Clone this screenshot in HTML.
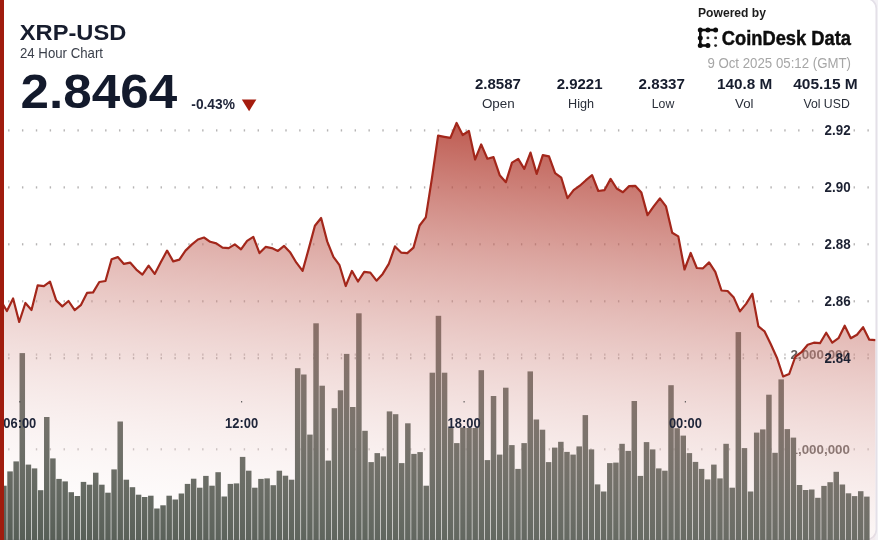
<!DOCTYPE html>
<html><head><meta charset="utf-8"><title>XRP-USD 24 Hour Chart</title>
<style>
html,body{margin:0;padding:0;background:#fff;}
body{width:878px;height:540px;overflow:hidden;position:relative;font-family:"Liberation Sans",sans-serif;}
svg{position:absolute;left:0;top:0;display:block;font-family:"Liberation Sans",sans-serif;}
</style></head><body>
<svg width="878" height="540" viewBox="0 0 878 540">
<defs>
<linearGradient id="ag" gradientUnits="userSpaceOnUse" x1="456" y1="71.8" x2="401.3" y2="601.8">
<stop offset="0" stop-color="rgb(165,28,14)" stop-opacity="0.884"/>
<stop offset="1" stop-color="rgb(255,255,255)" stop-opacity="0"/>
</linearGradient>
<filter id="nf" x="0" y="0" width="878" height="540" filterUnits="userSpaceOnUse" color-interpolation-filters="sRGB"><feOffset dx="0" dy="0"/></filter>
<clipPath id="cp"><rect x="0" y="0" width="875.6" height="540"/></clipPath>
</defs>
<rect x="0" y="0" width="878" height="540" fill="#ffffff"/>
<g filter="url(#nf)">
<!-- outer frame -->
<rect x="0" y="0" width="878" height="540" fill="#f3f1f5"/><rect x="-20" y="-1.5" width="896.3" height="541.2" rx="10" ry="10" fill="#ffffff" stroke="#e4e0e8" stroke-width="1.7"/>
<!-- price gridlines -->
<g fill="#b6b4b4"><rect x="8.10" y="129.30" width="1.4" height="2.2"/><rect x="21.96" y="129.30" width="1.4" height="2.2"/><rect x="35.82" y="129.30" width="1.4" height="2.2"/><rect x="49.68" y="129.30" width="1.4" height="2.2"/><rect x="63.54" y="129.30" width="1.4" height="2.2"/><rect x="77.40" y="129.30" width="1.4" height="2.2"/><rect x="91.26" y="129.30" width="1.4" height="2.2"/><rect x="105.12" y="129.30" width="1.4" height="2.2"/><rect x="118.98" y="129.30" width="1.4" height="2.2"/><rect x="132.84" y="129.30" width="1.4" height="2.2"/><rect x="146.70" y="129.30" width="1.4" height="2.2"/><rect x="160.56" y="129.30" width="1.4" height="2.2"/><rect x="174.42" y="129.30" width="1.4" height="2.2"/><rect x="188.28" y="129.30" width="1.4" height="2.2"/><rect x="202.14" y="129.30" width="1.4" height="2.2"/><rect x="216.00" y="129.30" width="1.4" height="2.2"/><rect x="229.86" y="129.30" width="1.4" height="2.2"/><rect x="243.72" y="129.30" width="1.4" height="2.2"/><rect x="257.58" y="129.30" width="1.4" height="2.2"/><rect x="271.44" y="129.30" width="1.4" height="2.2"/><rect x="285.30" y="129.30" width="1.4" height="2.2"/><rect x="299.16" y="129.30" width="1.4" height="2.2"/><rect x="313.02" y="129.30" width="1.4" height="2.2"/><rect x="326.88" y="129.30" width="1.4" height="2.2"/><rect x="340.74" y="129.30" width="1.4" height="2.2"/><rect x="354.60" y="129.30" width="1.4" height="2.2"/><rect x="368.46" y="129.30" width="1.4" height="2.2"/><rect x="382.32" y="129.30" width="1.4" height="2.2"/><rect x="396.18" y="129.30" width="1.4" height="2.2"/><rect x="410.04" y="129.30" width="1.4" height="2.2"/><rect x="423.90" y="129.30" width="1.4" height="2.2"/><rect x="437.76" y="129.30" width="1.4" height="2.2"/><rect x="451.62" y="129.30" width="1.4" height="2.2"/><rect x="465.48" y="129.30" width="1.4" height="2.2"/><rect x="479.34" y="129.30" width="1.4" height="2.2"/><rect x="493.20" y="129.30" width="1.4" height="2.2"/><rect x="507.06" y="129.30" width="1.4" height="2.2"/><rect x="520.92" y="129.30" width="1.4" height="2.2"/><rect x="534.78" y="129.30" width="1.4" height="2.2"/><rect x="548.64" y="129.30" width="1.4" height="2.2"/><rect x="562.50" y="129.30" width="1.4" height="2.2"/><rect x="576.36" y="129.30" width="1.4" height="2.2"/><rect x="590.22" y="129.30" width="1.4" height="2.2"/><rect x="604.08" y="129.30" width="1.4" height="2.2"/><rect x="617.94" y="129.30" width="1.4" height="2.2"/><rect x="631.80" y="129.30" width="1.4" height="2.2"/><rect x="645.66" y="129.30" width="1.4" height="2.2"/><rect x="659.52" y="129.30" width="1.4" height="2.2"/><rect x="673.38" y="129.30" width="1.4" height="2.2"/><rect x="687.24" y="129.30" width="1.4" height="2.2"/><rect x="701.10" y="129.30" width="1.4" height="2.2"/><rect x="714.96" y="129.30" width="1.4" height="2.2"/><rect x="728.82" y="129.30" width="1.4" height="2.2"/><rect x="742.68" y="129.30" width="1.4" height="2.2"/><rect x="756.54" y="129.30" width="1.4" height="2.2"/><rect x="770.40" y="129.30" width="1.4" height="2.2"/><rect x="784.26" y="129.30" width="1.4" height="2.2"/><rect x="798.12" y="129.30" width="1.4" height="2.2"/><rect x="811.98" y="129.30" width="1.4" height="2.2"/><rect x="853.56" y="129.30" width="1.4" height="2.2"/><rect x="867.42" y="129.30" width="1.4" height="2.2"/></g>
<g fill="#b6b4b4"><rect x="8.10" y="186.30" width="1.4" height="2.2"/><rect x="21.96" y="186.30" width="1.4" height="2.2"/><rect x="35.82" y="186.30" width="1.4" height="2.2"/><rect x="49.68" y="186.30" width="1.4" height="2.2"/><rect x="63.54" y="186.30" width="1.4" height="2.2"/><rect x="77.40" y="186.30" width="1.4" height="2.2"/><rect x="91.26" y="186.30" width="1.4" height="2.2"/><rect x="105.12" y="186.30" width="1.4" height="2.2"/><rect x="118.98" y="186.30" width="1.4" height="2.2"/><rect x="132.84" y="186.30" width="1.4" height="2.2"/><rect x="146.70" y="186.30" width="1.4" height="2.2"/><rect x="160.56" y="186.30" width="1.4" height="2.2"/><rect x="174.42" y="186.30" width="1.4" height="2.2"/><rect x="188.28" y="186.30" width="1.4" height="2.2"/><rect x="202.14" y="186.30" width="1.4" height="2.2"/><rect x="216.00" y="186.30" width="1.4" height="2.2"/><rect x="229.86" y="186.30" width="1.4" height="2.2"/><rect x="243.72" y="186.30" width="1.4" height="2.2"/><rect x="257.58" y="186.30" width="1.4" height="2.2"/><rect x="271.44" y="186.30" width="1.4" height="2.2"/><rect x="285.30" y="186.30" width="1.4" height="2.2"/><rect x="299.16" y="186.30" width="1.4" height="2.2"/><rect x="313.02" y="186.30" width="1.4" height="2.2"/><rect x="326.88" y="186.30" width="1.4" height="2.2"/><rect x="340.74" y="186.30" width="1.4" height="2.2"/><rect x="354.60" y="186.30" width="1.4" height="2.2"/><rect x="368.46" y="186.30" width="1.4" height="2.2"/><rect x="382.32" y="186.30" width="1.4" height="2.2"/><rect x="396.18" y="186.30" width="1.4" height="2.2"/><rect x="410.04" y="186.30" width="1.4" height="2.2"/><rect x="423.90" y="186.30" width="1.4" height="2.2"/><rect x="437.76" y="186.30" width="1.4" height="2.2"/><rect x="451.62" y="186.30" width="1.4" height="2.2"/><rect x="465.48" y="186.30" width="1.4" height="2.2"/><rect x="479.34" y="186.30" width="1.4" height="2.2"/><rect x="493.20" y="186.30" width="1.4" height="2.2"/><rect x="507.06" y="186.30" width="1.4" height="2.2"/><rect x="520.92" y="186.30" width="1.4" height="2.2"/><rect x="534.78" y="186.30" width="1.4" height="2.2"/><rect x="548.64" y="186.30" width="1.4" height="2.2"/><rect x="562.50" y="186.30" width="1.4" height="2.2"/><rect x="576.36" y="186.30" width="1.4" height="2.2"/><rect x="590.22" y="186.30" width="1.4" height="2.2"/><rect x="604.08" y="186.30" width="1.4" height="2.2"/><rect x="617.94" y="186.30" width="1.4" height="2.2"/><rect x="631.80" y="186.30" width="1.4" height="2.2"/><rect x="645.66" y="186.30" width="1.4" height="2.2"/><rect x="659.52" y="186.30" width="1.4" height="2.2"/><rect x="673.38" y="186.30" width="1.4" height="2.2"/><rect x="687.24" y="186.30" width="1.4" height="2.2"/><rect x="701.10" y="186.30" width="1.4" height="2.2"/><rect x="714.96" y="186.30" width="1.4" height="2.2"/><rect x="728.82" y="186.30" width="1.4" height="2.2"/><rect x="742.68" y="186.30" width="1.4" height="2.2"/><rect x="756.54" y="186.30" width="1.4" height="2.2"/><rect x="770.40" y="186.30" width="1.4" height="2.2"/><rect x="784.26" y="186.30" width="1.4" height="2.2"/><rect x="798.12" y="186.30" width="1.4" height="2.2"/><rect x="811.98" y="186.30" width="1.4" height="2.2"/><rect x="853.56" y="186.30" width="1.4" height="2.2"/><rect x="867.42" y="186.30" width="1.4" height="2.2"/></g>
<g fill="#b6b4b4"><rect x="8.10" y="243.20" width="1.4" height="2.2"/><rect x="21.96" y="243.20" width="1.4" height="2.2"/><rect x="35.82" y="243.20" width="1.4" height="2.2"/><rect x="49.68" y="243.20" width="1.4" height="2.2"/><rect x="63.54" y="243.20" width="1.4" height="2.2"/><rect x="77.40" y="243.20" width="1.4" height="2.2"/><rect x="91.26" y="243.20" width="1.4" height="2.2"/><rect x="105.12" y="243.20" width="1.4" height="2.2"/><rect x="118.98" y="243.20" width="1.4" height="2.2"/><rect x="132.84" y="243.20" width="1.4" height="2.2"/><rect x="146.70" y="243.20" width="1.4" height="2.2"/><rect x="160.56" y="243.20" width="1.4" height="2.2"/><rect x="174.42" y="243.20" width="1.4" height="2.2"/><rect x="188.28" y="243.20" width="1.4" height="2.2"/><rect x="202.14" y="243.20" width="1.4" height="2.2"/><rect x="216.00" y="243.20" width="1.4" height="2.2"/><rect x="229.86" y="243.20" width="1.4" height="2.2"/><rect x="243.72" y="243.20" width="1.4" height="2.2"/><rect x="257.58" y="243.20" width="1.4" height="2.2"/><rect x="271.44" y="243.20" width="1.4" height="2.2"/><rect x="285.30" y="243.20" width="1.4" height="2.2"/><rect x="299.16" y="243.20" width="1.4" height="2.2"/><rect x="313.02" y="243.20" width="1.4" height="2.2"/><rect x="326.88" y="243.20" width="1.4" height="2.2"/><rect x="340.74" y="243.20" width="1.4" height="2.2"/><rect x="354.60" y="243.20" width="1.4" height="2.2"/><rect x="368.46" y="243.20" width="1.4" height="2.2"/><rect x="382.32" y="243.20" width="1.4" height="2.2"/><rect x="396.18" y="243.20" width="1.4" height="2.2"/><rect x="410.04" y="243.20" width="1.4" height="2.2"/><rect x="423.90" y="243.20" width="1.4" height="2.2"/><rect x="437.76" y="243.20" width="1.4" height="2.2"/><rect x="451.62" y="243.20" width="1.4" height="2.2"/><rect x="465.48" y="243.20" width="1.4" height="2.2"/><rect x="479.34" y="243.20" width="1.4" height="2.2"/><rect x="493.20" y="243.20" width="1.4" height="2.2"/><rect x="507.06" y="243.20" width="1.4" height="2.2"/><rect x="520.92" y="243.20" width="1.4" height="2.2"/><rect x="534.78" y="243.20" width="1.4" height="2.2"/><rect x="548.64" y="243.20" width="1.4" height="2.2"/><rect x="562.50" y="243.20" width="1.4" height="2.2"/><rect x="576.36" y="243.20" width="1.4" height="2.2"/><rect x="590.22" y="243.20" width="1.4" height="2.2"/><rect x="604.08" y="243.20" width="1.4" height="2.2"/><rect x="617.94" y="243.20" width="1.4" height="2.2"/><rect x="631.80" y="243.20" width="1.4" height="2.2"/><rect x="645.66" y="243.20" width="1.4" height="2.2"/><rect x="659.52" y="243.20" width="1.4" height="2.2"/><rect x="673.38" y="243.20" width="1.4" height="2.2"/><rect x="687.24" y="243.20" width="1.4" height="2.2"/><rect x="701.10" y="243.20" width="1.4" height="2.2"/><rect x="714.96" y="243.20" width="1.4" height="2.2"/><rect x="728.82" y="243.20" width="1.4" height="2.2"/><rect x="742.68" y="243.20" width="1.4" height="2.2"/><rect x="756.54" y="243.20" width="1.4" height="2.2"/><rect x="770.40" y="243.20" width="1.4" height="2.2"/><rect x="784.26" y="243.20" width="1.4" height="2.2"/><rect x="798.12" y="243.20" width="1.4" height="2.2"/><rect x="811.98" y="243.20" width="1.4" height="2.2"/><rect x="853.56" y="243.20" width="1.4" height="2.2"/><rect x="867.42" y="243.20" width="1.4" height="2.2"/></g>
<g fill="#b6b4b4"><rect x="8.10" y="300.20" width="1.4" height="2.2"/><rect x="21.96" y="300.20" width="1.4" height="2.2"/><rect x="35.82" y="300.20" width="1.4" height="2.2"/><rect x="49.68" y="300.20" width="1.4" height="2.2"/><rect x="63.54" y="300.20" width="1.4" height="2.2"/><rect x="77.40" y="300.20" width="1.4" height="2.2"/><rect x="91.26" y="300.20" width="1.4" height="2.2"/><rect x="105.12" y="300.20" width="1.4" height="2.2"/><rect x="118.98" y="300.20" width="1.4" height="2.2"/><rect x="132.84" y="300.20" width="1.4" height="2.2"/><rect x="146.70" y="300.20" width="1.4" height="2.2"/><rect x="160.56" y="300.20" width="1.4" height="2.2"/><rect x="174.42" y="300.20" width="1.4" height="2.2"/><rect x="188.28" y="300.20" width="1.4" height="2.2"/><rect x="202.14" y="300.20" width="1.4" height="2.2"/><rect x="216.00" y="300.20" width="1.4" height="2.2"/><rect x="229.86" y="300.20" width="1.4" height="2.2"/><rect x="243.72" y="300.20" width="1.4" height="2.2"/><rect x="257.58" y="300.20" width="1.4" height="2.2"/><rect x="271.44" y="300.20" width="1.4" height="2.2"/><rect x="285.30" y="300.20" width="1.4" height="2.2"/><rect x="299.16" y="300.20" width="1.4" height="2.2"/><rect x="313.02" y="300.20" width="1.4" height="2.2"/><rect x="326.88" y="300.20" width="1.4" height="2.2"/><rect x="340.74" y="300.20" width="1.4" height="2.2"/><rect x="354.60" y="300.20" width="1.4" height="2.2"/><rect x="368.46" y="300.20" width="1.4" height="2.2"/><rect x="382.32" y="300.20" width="1.4" height="2.2"/><rect x="396.18" y="300.20" width="1.4" height="2.2"/><rect x="410.04" y="300.20" width="1.4" height="2.2"/><rect x="423.90" y="300.20" width="1.4" height="2.2"/><rect x="437.76" y="300.20" width="1.4" height="2.2"/><rect x="451.62" y="300.20" width="1.4" height="2.2"/><rect x="465.48" y="300.20" width="1.4" height="2.2"/><rect x="479.34" y="300.20" width="1.4" height="2.2"/><rect x="493.20" y="300.20" width="1.4" height="2.2"/><rect x="507.06" y="300.20" width="1.4" height="2.2"/><rect x="520.92" y="300.20" width="1.4" height="2.2"/><rect x="534.78" y="300.20" width="1.4" height="2.2"/><rect x="548.64" y="300.20" width="1.4" height="2.2"/><rect x="562.50" y="300.20" width="1.4" height="2.2"/><rect x="576.36" y="300.20" width="1.4" height="2.2"/><rect x="590.22" y="300.20" width="1.4" height="2.2"/><rect x="604.08" y="300.20" width="1.4" height="2.2"/><rect x="617.94" y="300.20" width="1.4" height="2.2"/><rect x="631.80" y="300.20" width="1.4" height="2.2"/><rect x="645.66" y="300.20" width="1.4" height="2.2"/><rect x="659.52" y="300.20" width="1.4" height="2.2"/><rect x="673.38" y="300.20" width="1.4" height="2.2"/><rect x="687.24" y="300.20" width="1.4" height="2.2"/><rect x="701.10" y="300.20" width="1.4" height="2.2"/><rect x="714.96" y="300.20" width="1.4" height="2.2"/><rect x="728.82" y="300.20" width="1.4" height="2.2"/><rect x="742.68" y="300.20" width="1.4" height="2.2"/><rect x="756.54" y="300.20" width="1.4" height="2.2"/><rect x="770.40" y="300.20" width="1.4" height="2.2"/><rect x="784.26" y="300.20" width="1.4" height="2.2"/><rect x="798.12" y="300.20" width="1.4" height="2.2"/><rect x="811.98" y="300.20" width="1.4" height="2.2"/><rect x="853.56" y="300.20" width="1.4" height="2.2"/><rect x="867.42" y="300.20" width="1.4" height="2.2"/></g>
<g fill="#b6b4b4"><rect x="8.10" y="357.10" width="1.4" height="2.2"/><rect x="21.96" y="357.10" width="1.4" height="2.2"/><rect x="35.82" y="357.10" width="1.4" height="2.2"/><rect x="49.68" y="357.10" width="1.4" height="2.2"/><rect x="63.54" y="357.10" width="1.4" height="2.2"/><rect x="77.40" y="357.10" width="1.4" height="2.2"/><rect x="91.26" y="357.10" width="1.4" height="2.2"/><rect x="105.12" y="357.10" width="1.4" height="2.2"/><rect x="118.98" y="357.10" width="1.4" height="2.2"/><rect x="132.84" y="357.10" width="1.4" height="2.2"/><rect x="146.70" y="357.10" width="1.4" height="2.2"/><rect x="160.56" y="357.10" width="1.4" height="2.2"/><rect x="174.42" y="357.10" width="1.4" height="2.2"/><rect x="188.28" y="357.10" width="1.4" height="2.2"/><rect x="202.14" y="357.10" width="1.4" height="2.2"/><rect x="216.00" y="357.10" width="1.4" height="2.2"/><rect x="229.86" y="357.10" width="1.4" height="2.2"/><rect x="243.72" y="357.10" width="1.4" height="2.2"/><rect x="257.58" y="357.10" width="1.4" height="2.2"/><rect x="271.44" y="357.10" width="1.4" height="2.2"/><rect x="285.30" y="357.10" width="1.4" height="2.2"/><rect x="299.16" y="357.10" width="1.4" height="2.2"/><rect x="313.02" y="357.10" width="1.4" height="2.2"/><rect x="326.88" y="357.10" width="1.4" height="2.2"/><rect x="340.74" y="357.10" width="1.4" height="2.2"/><rect x="354.60" y="357.10" width="1.4" height="2.2"/><rect x="368.46" y="357.10" width="1.4" height="2.2"/><rect x="382.32" y="357.10" width="1.4" height="2.2"/><rect x="396.18" y="357.10" width="1.4" height="2.2"/><rect x="410.04" y="357.10" width="1.4" height="2.2"/><rect x="423.90" y="357.10" width="1.4" height="2.2"/><rect x="437.76" y="357.10" width="1.4" height="2.2"/><rect x="451.62" y="357.10" width="1.4" height="2.2"/><rect x="465.48" y="357.10" width="1.4" height="2.2"/><rect x="479.34" y="357.10" width="1.4" height="2.2"/><rect x="493.20" y="357.10" width="1.4" height="2.2"/><rect x="507.06" y="357.10" width="1.4" height="2.2"/><rect x="520.92" y="357.10" width="1.4" height="2.2"/><rect x="534.78" y="357.10" width="1.4" height="2.2"/><rect x="548.64" y="357.10" width="1.4" height="2.2"/><rect x="562.50" y="357.10" width="1.4" height="2.2"/><rect x="576.36" y="357.10" width="1.4" height="2.2"/><rect x="590.22" y="357.10" width="1.4" height="2.2"/><rect x="604.08" y="357.10" width="1.4" height="2.2"/><rect x="617.94" y="357.10" width="1.4" height="2.2"/><rect x="631.80" y="357.10" width="1.4" height="2.2"/><rect x="645.66" y="357.10" width="1.4" height="2.2"/><rect x="659.52" y="357.10" width="1.4" height="2.2"/><rect x="673.38" y="357.10" width="1.4" height="2.2"/><rect x="687.24" y="357.10" width="1.4" height="2.2"/><rect x="701.10" y="357.10" width="1.4" height="2.2"/><rect x="714.96" y="357.10" width="1.4" height="2.2"/><rect x="728.82" y="357.10" width="1.4" height="2.2"/><rect x="742.68" y="357.10" width="1.4" height="2.2"/><rect x="756.54" y="357.10" width="1.4" height="2.2"/><rect x="770.40" y="357.10" width="1.4" height="2.2"/><rect x="784.26" y="357.10" width="1.4" height="2.2"/><rect x="798.12" y="357.10" width="1.4" height="2.2"/><rect x="811.98" y="357.10" width="1.4" height="2.2"/><rect x="853.56" y="357.10" width="1.4" height="2.2"/><rect x="867.42" y="357.10" width="1.4" height="2.2"/></g>

<g fill="#c6c2c2"><rect x="8.10" y="353.50" width="1.4" height="2.2"/><rect x="21.96" y="353.50" width="1.4" height="2.2"/><rect x="35.82" y="353.50" width="1.4" height="2.2"/><rect x="49.68" y="353.50" width="1.4" height="2.2"/><rect x="63.54" y="353.50" width="1.4" height="2.2"/><rect x="77.40" y="353.50" width="1.4" height="2.2"/><rect x="91.26" y="353.50" width="1.4" height="2.2"/><rect x="105.12" y="353.50" width="1.4" height="2.2"/><rect x="118.98" y="353.50" width="1.4" height="2.2"/><rect x="132.84" y="353.50" width="1.4" height="2.2"/><rect x="146.70" y="353.50" width="1.4" height="2.2"/><rect x="160.56" y="353.50" width="1.4" height="2.2"/><rect x="174.42" y="353.50" width="1.4" height="2.2"/><rect x="188.28" y="353.50" width="1.4" height="2.2"/><rect x="202.14" y="353.50" width="1.4" height="2.2"/><rect x="216.00" y="353.50" width="1.4" height="2.2"/><rect x="229.86" y="353.50" width="1.4" height="2.2"/><rect x="243.72" y="353.50" width="1.4" height="2.2"/><rect x="257.58" y="353.50" width="1.4" height="2.2"/><rect x="271.44" y="353.50" width="1.4" height="2.2"/><rect x="285.30" y="353.50" width="1.4" height="2.2"/><rect x="299.16" y="353.50" width="1.4" height="2.2"/><rect x="313.02" y="353.50" width="1.4" height="2.2"/><rect x="326.88" y="353.50" width="1.4" height="2.2"/><rect x="340.74" y="353.50" width="1.4" height="2.2"/><rect x="354.60" y="353.50" width="1.4" height="2.2"/><rect x="368.46" y="353.50" width="1.4" height="2.2"/><rect x="382.32" y="353.50" width="1.4" height="2.2"/><rect x="396.18" y="353.50" width="1.4" height="2.2"/><rect x="410.04" y="353.50" width="1.4" height="2.2"/><rect x="423.90" y="353.50" width="1.4" height="2.2"/><rect x="437.76" y="353.50" width="1.4" height="2.2"/><rect x="451.62" y="353.50" width="1.4" height="2.2"/><rect x="465.48" y="353.50" width="1.4" height="2.2"/><rect x="479.34" y="353.50" width="1.4" height="2.2"/><rect x="493.20" y="353.50" width="1.4" height="2.2"/><rect x="507.06" y="353.50" width="1.4" height="2.2"/><rect x="520.92" y="353.50" width="1.4" height="2.2"/><rect x="534.78" y="353.50" width="1.4" height="2.2"/><rect x="548.64" y="353.50" width="1.4" height="2.2"/><rect x="562.50" y="353.50" width="1.4" height="2.2"/><rect x="576.36" y="353.50" width="1.4" height="2.2"/><rect x="590.22" y="353.50" width="1.4" height="2.2"/><rect x="604.08" y="353.50" width="1.4" height="2.2"/><rect x="617.94" y="353.50" width="1.4" height="2.2"/><rect x="631.80" y="353.50" width="1.4" height="2.2"/><rect x="645.66" y="353.50" width="1.4" height="2.2"/><rect x="659.52" y="353.50" width="1.4" height="2.2"/><rect x="673.38" y="353.50" width="1.4" height="2.2"/><rect x="687.24" y="353.50" width="1.4" height="2.2"/><rect x="701.10" y="353.50" width="1.4" height="2.2"/><rect x="714.96" y="353.50" width="1.4" height="2.2"/><rect x="728.82" y="353.50" width="1.4" height="2.2"/><rect x="742.68" y="353.50" width="1.4" height="2.2"/><rect x="756.54" y="353.50" width="1.4" height="2.2"/><rect x="770.40" y="353.50" width="1.4" height="2.2"/><rect x="784.26" y="353.50" width="1.4" height="2.2"/><rect x="798.12" y="353.50" width="1.4" height="2.2"/><rect x="811.98" y="353.50" width="1.4" height="2.2"/><rect x="825.84" y="353.50" width="1.4" height="2.2"/><rect x="839.70" y="353.50" width="1.4" height="2.2"/><rect x="853.56" y="353.50" width="1.4" height="2.2"/><rect x="867.42" y="353.50" width="1.4" height="2.2"/></g>
<g fill="#c6c2c2"><rect x="8.10" y="448.20" width="1.4" height="2.2"/><rect x="21.96" y="448.20" width="1.4" height="2.2"/><rect x="35.82" y="448.20" width="1.4" height="2.2"/><rect x="49.68" y="448.20" width="1.4" height="2.2"/><rect x="63.54" y="448.20" width="1.4" height="2.2"/><rect x="77.40" y="448.20" width="1.4" height="2.2"/><rect x="91.26" y="448.20" width="1.4" height="2.2"/><rect x="105.12" y="448.20" width="1.4" height="2.2"/><rect x="118.98" y="448.20" width="1.4" height="2.2"/><rect x="132.84" y="448.20" width="1.4" height="2.2"/><rect x="146.70" y="448.20" width="1.4" height="2.2"/><rect x="160.56" y="448.20" width="1.4" height="2.2"/><rect x="174.42" y="448.20" width="1.4" height="2.2"/><rect x="188.28" y="448.20" width="1.4" height="2.2"/><rect x="202.14" y="448.20" width="1.4" height="2.2"/><rect x="216.00" y="448.20" width="1.4" height="2.2"/><rect x="229.86" y="448.20" width="1.4" height="2.2"/><rect x="243.72" y="448.20" width="1.4" height="2.2"/><rect x="257.58" y="448.20" width="1.4" height="2.2"/><rect x="271.44" y="448.20" width="1.4" height="2.2"/><rect x="285.30" y="448.20" width="1.4" height="2.2"/><rect x="299.16" y="448.20" width="1.4" height="2.2"/><rect x="313.02" y="448.20" width="1.4" height="2.2"/><rect x="326.88" y="448.20" width="1.4" height="2.2"/><rect x="340.74" y="448.20" width="1.4" height="2.2"/><rect x="354.60" y="448.20" width="1.4" height="2.2"/><rect x="368.46" y="448.20" width="1.4" height="2.2"/><rect x="382.32" y="448.20" width="1.4" height="2.2"/><rect x="396.18" y="448.20" width="1.4" height="2.2"/><rect x="410.04" y="448.20" width="1.4" height="2.2"/><rect x="423.90" y="448.20" width="1.4" height="2.2"/><rect x="437.76" y="448.20" width="1.4" height="2.2"/><rect x="451.62" y="448.20" width="1.4" height="2.2"/><rect x="465.48" y="448.20" width="1.4" height="2.2"/><rect x="479.34" y="448.20" width="1.4" height="2.2"/><rect x="493.20" y="448.20" width="1.4" height="2.2"/><rect x="507.06" y="448.20" width="1.4" height="2.2"/><rect x="520.92" y="448.20" width="1.4" height="2.2"/><rect x="534.78" y="448.20" width="1.4" height="2.2"/><rect x="548.64" y="448.20" width="1.4" height="2.2"/><rect x="562.50" y="448.20" width="1.4" height="2.2"/><rect x="576.36" y="448.20" width="1.4" height="2.2"/><rect x="590.22" y="448.20" width="1.4" height="2.2"/><rect x="604.08" y="448.20" width="1.4" height="2.2"/><rect x="617.94" y="448.20" width="1.4" height="2.2"/><rect x="631.80" y="448.20" width="1.4" height="2.2"/><rect x="645.66" y="448.20" width="1.4" height="2.2"/><rect x="659.52" y="448.20" width="1.4" height="2.2"/><rect x="673.38" y="448.20" width="1.4" height="2.2"/><rect x="687.24" y="448.20" width="1.4" height="2.2"/><rect x="701.10" y="448.20" width="1.4" height="2.2"/><rect x="714.96" y="448.20" width="1.4" height="2.2"/><rect x="728.82" y="448.20" width="1.4" height="2.2"/><rect x="742.68" y="448.20" width="1.4" height="2.2"/><rect x="756.54" y="448.20" width="1.4" height="2.2"/><rect x="770.40" y="448.20" width="1.4" height="2.2"/><rect x="784.26" y="448.20" width="1.4" height="2.2"/><rect x="798.12" y="448.20" width="1.4" height="2.2"/><rect x="811.98" y="448.20" width="1.4" height="2.2"/><rect x="825.84" y="448.20" width="1.4" height="2.2"/><rect x="839.70" y="448.20" width="1.4" height="2.2"/><rect x="853.56" y="448.20" width="1.4" height="2.2"/><rect x="867.42" y="448.20" width="1.4" height="2.2"/></g>

<!-- volume labels -->
<text x="850" y="359.4" text-anchor="end" font-size="13.5" font-weight="700" fill="#645d5a" textLength="59.5" lengthAdjust="spacingAndGlyphs">2,000,000</text>
<text x="850" y="454.1" text-anchor="end" font-size="13.5" font-weight="700" fill="#645d5a" textLength="59.5" lengthAdjust="spacingAndGlyphs">1,000,000</text>

<!-- bars -->
<g fill="#505850" clip-path="url(#cp)">
<rect x="1.18" y="485.7" width="5.5" height="59.3"/>
<rect x="7.30" y="471.4" width="5.5" height="73.6"/>
<rect x="13.42" y="461.4" width="5.5" height="83.6"/>
<rect x="19.54" y="353.1" width="5.5" height="191.9"/>
<rect x="25.66" y="464.6" width="5.5" height="80.4"/>
<rect x="31.78" y="468.4" width="5.5" height="76.6"/>
<rect x="37.90" y="490.2" width="5.5" height="54.8"/>
<rect x="44.02" y="417.0" width="5.5" height="128.0"/>
<rect x="50.14" y="458.4" width="5.5" height="86.6"/>
<rect x="56.26" y="478.9" width="5.5" height="66.1"/>
<rect x="62.38" y="481.4" width="5.5" height="63.6"/>
<rect x="68.50" y="492.2" width="5.5" height="52.8"/>
<rect x="74.62" y="496.0" width="5.5" height="49.0"/>
<rect x="80.74" y="481.9" width="5.5" height="63.1"/>
<rect x="86.86" y="484.7" width="5.5" height="60.3"/>
<rect x="92.98" y="472.7" width="5.5" height="72.3"/>
<rect x="99.10" y="484.7" width="5.5" height="60.3"/>
<rect x="105.22" y="492.7" width="5.5" height="52.3"/>
<rect x="111.34" y="469.4" width="5.5" height="75.6"/>
<rect x="117.46" y="421.5" width="5.5" height="123.5"/>
<rect x="123.58" y="479.7" width="5.5" height="65.3"/>
<rect x="129.70" y="487.2" width="5.5" height="57.8"/>
<rect x="135.82" y="494.7" width="5.5" height="50.3"/>
<rect x="141.94" y="497.0" width="5.5" height="48.0"/>
<rect x="148.06" y="495.7" width="5.5" height="49.3"/>
<rect x="154.18" y="508.5" width="5.5" height="36.5"/>
<rect x="160.30" y="505.3" width="5.5" height="39.7"/>
<rect x="166.42" y="495.7" width="5.5" height="49.3"/>
<rect x="172.54" y="499.5" width="5.5" height="45.5"/>
<rect x="178.66" y="493.5" width="5.5" height="51.5"/>
<rect x="184.78" y="483.9" width="5.5" height="61.1"/>
<rect x="190.90" y="478.7" width="5.5" height="66.3"/>
<rect x="197.02" y="487.7" width="5.5" height="57.3"/>
<rect x="203.14" y="475.9" width="5.5" height="69.1"/>
<rect x="209.26" y="485.7" width="5.5" height="59.3"/>
<rect x="215.38" y="472.2" width="5.5" height="72.8"/>
<rect x="221.50" y="496.5" width="5.5" height="48.5"/>
<rect x="227.62" y="483.9" width="5.5" height="61.1"/>
<rect x="233.74" y="483.4" width="5.5" height="61.6"/>
<rect x="239.86" y="456.9" width="5.5" height="88.1"/>
<rect x="245.98" y="470.7" width="5.5" height="74.3"/>
<rect x="252.10" y="487.7" width="5.5" height="57.3"/>
<rect x="258.22" y="478.9" width="5.5" height="66.1"/>
<rect x="264.34" y="478.4" width="5.5" height="66.6"/>
<rect x="270.46" y="485.2" width="5.5" height="59.8"/>
<rect x="276.58" y="470.7" width="5.5" height="74.3"/>
<rect x="282.70" y="475.7" width="5.5" height="69.3"/>
<rect x="288.82" y="479.7" width="5.5" height="65.3"/>
<rect x="294.94" y="368.2" width="5.5" height="176.8"/>
<rect x="301.06" y="374.5" width="5.5" height="170.5"/>
<rect x="307.18" y="434.6" width="5.5" height="110.4"/>
<rect x="313.30" y="323.3" width="5.5" height="221.7"/>
<rect x="319.42" y="385.7" width="5.5" height="159.3"/>
<rect x="325.54" y="460.6" width="5.5" height="84.4"/>
<rect x="331.66" y="408.2" width="5.5" height="136.8"/>
<rect x="337.78" y="390.3" width="5.5" height="154.7"/>
<rect x="343.90" y="353.9" width="5.5" height="191.1"/>
<rect x="350.02" y="407.0" width="5.5" height="138.0"/>
<rect x="356.14" y="313.3" width="5.5" height="231.7"/>
<rect x="362.26" y="430.8" width="5.5" height="114.2"/>
<rect x="368.38" y="462.1" width="5.5" height="82.9"/>
<rect x="374.50" y="453.1" width="5.5" height="91.9"/>
<rect x="380.62" y="456.4" width="5.5" height="88.6"/>
<rect x="386.74" y="411.4" width="5.5" height="133.6"/>
<rect x="392.86" y="414.2" width="5.5" height="130.8"/>
<rect x="398.98" y="463.1" width="5.5" height="81.9"/>
<rect x="405.10" y="423.3" width="5.5" height="121.7"/>
<rect x="411.22" y="453.9" width="5.5" height="91.1"/>
<rect x="417.34" y="452.1" width="5.5" height="92.9"/>
<rect x="423.46" y="485.7" width="5.5" height="59.3"/>
<rect x="429.58" y="372.7" width="5.5" height="172.3"/>
<rect x="435.70" y="315.8" width="5.5" height="229.2"/>
<rect x="441.82" y="372.7" width="5.5" height="172.3"/>
<rect x="447.94" y="428.0" width="5.5" height="117.0"/>
<rect x="454.06" y="443.1" width="5.5" height="101.9"/>
<rect x="460.18" y="427.5" width="5.5" height="117.5"/>
<rect x="466.30" y="428.0" width="5.5" height="117.0"/>
<rect x="472.42" y="428.0" width="5.5" height="117.0"/>
<rect x="478.54" y="370.2" width="5.5" height="174.8"/>
<rect x="484.66" y="460.1" width="5.5" height="84.9"/>
<rect x="490.78" y="396.0" width="5.5" height="149.0"/>
<rect x="496.90" y="454.6" width="5.5" height="90.4"/>
<rect x="503.02" y="387.7" width="5.5" height="157.3"/>
<rect x="509.14" y="445.1" width="5.5" height="99.9"/>
<rect x="515.26" y="468.9" width="5.5" height="76.1"/>
<rect x="521.38" y="443.1" width="5.5" height="101.9"/>
<rect x="527.50" y="371.4" width="5.5" height="173.6"/>
<rect x="533.62" y="419.5" width="5.5" height="125.5"/>
<rect x="539.74" y="429.7" width="5.5" height="115.3"/>
<rect x="545.86" y="462.1" width="5.5" height="82.9"/>
<rect x="551.98" y="447.6" width="5.5" height="97.4"/>
<rect x="558.10" y="441.8" width="5.5" height="103.2"/>
<rect x="564.22" y="451.9" width="5.5" height="93.1"/>
<rect x="570.34" y="454.6" width="5.5" height="90.4"/>
<rect x="576.46" y="446.4" width="5.5" height="98.6"/>
<rect x="582.58" y="415.1" width="5.5" height="129.9"/>
<rect x="588.70" y="449.4" width="5.5" height="95.6"/>
<rect x="594.82" y="484.4" width="5.5" height="60.6"/>
<rect x="600.94" y="491.5" width="5.5" height="53.5"/>
<rect x="607.06" y="463.1" width="5.5" height="81.9"/>
<rect x="613.18" y="462.6" width="5.5" height="82.4"/>
<rect x="619.30" y="443.8" width="5.5" height="101.2"/>
<rect x="625.42" y="450.9" width="5.5" height="94.1"/>
<rect x="631.54" y="401.0" width="5.5" height="144.0"/>
<rect x="637.66" y="475.9" width="5.5" height="69.1"/>
<rect x="643.78" y="442.1" width="5.5" height="102.9"/>
<rect x="649.90" y="449.4" width="5.5" height="95.6"/>
<rect x="656.02" y="468.4" width="5.5" height="76.6"/>
<rect x="662.14" y="470.7" width="5.5" height="74.3"/>
<rect x="668.26" y="385.2" width="5.5" height="159.8"/>
<rect x="674.38" y="428.2" width="5.5" height="116.8"/>
<rect x="680.50" y="435.6" width="5.5" height="109.4"/>
<rect x="686.62" y="453.1" width="5.5" height="91.9"/>
<rect x="692.74" y="461.9" width="5.5" height="83.1"/>
<rect x="698.86" y="468.9" width="5.5" height="76.1"/>
<rect x="704.98" y="479.4" width="5.5" height="65.6"/>
<rect x="711.10" y="464.6" width="5.5" height="80.4"/>
<rect x="717.22" y="478.4" width="5.5" height="66.6"/>
<rect x="723.34" y="443.8" width="5.5" height="101.2"/>
<rect x="729.46" y="487.7" width="5.5" height="57.3"/>
<rect x="735.58" y="332.1" width="5.5" height="212.9"/>
<rect x="741.70" y="448.1" width="5.5" height="96.9"/>
<rect x="747.82" y="491.5" width="5.5" height="53.5"/>
<rect x="753.94" y="432.6" width="5.5" height="112.4"/>
<rect x="760.06" y="429.4" width="5.5" height="115.6"/>
<rect x="766.18" y="394.7" width="5.5" height="150.3"/>
<rect x="772.30" y="452.8" width="5.5" height="92.2"/>
<rect x="778.42" y="379.4" width="5.5" height="165.6"/>
<rect x="784.54" y="429.1" width="5.5" height="115.9"/>
<rect x="790.66" y="437.6" width="5.5" height="107.4"/>
<rect x="796.78" y="485.0" width="5.5" height="60.0"/>
<rect x="802.90" y="490.0" width="5.5" height="55.0"/>
<rect x="809.02" y="489.5" width="5.5" height="55.5"/>
<rect x="815.14" y="497.8" width="5.5" height="47.2"/>
<rect x="821.26" y="485.9" width="5.5" height="59.1"/>
<rect x="827.38" y="482.2" width="5.5" height="62.8"/>
<rect x="833.50" y="471.8" width="5.5" height="73.2"/>
<rect x="839.62" y="484.5" width="5.5" height="60.5"/>
<rect x="845.74" y="493.3" width="5.5" height="51.7"/>
<rect x="851.86" y="496.1" width="5.5" height="48.9"/>
<rect x="857.98" y="491.2" width="5.5" height="53.8"/>
<rect x="864.10" y="496.6" width="5.5" height="48.4"/>
</g>
<!-- area -->
<path d="M0.7,300.5 L6.9,311.0 L13.1,298.5 L19.2,322.0 L25.4,303.0 L31.5,310.0 L37.7,285.3 L43.9,286.2 L50.0,281.7 L56.2,300.4 L62.3,306.4 L68.5,301.0 L74.7,310.2 L80.8,305.2 L87.0,292.9 L93.1,292.4 L99.3,282.0 L105.5,281.0 L111.6,259.3 L117.8,257.1 L123.9,263.9 L130.1,262.6 L136.3,269.6 L142.4,274.6 L148.6,265.6 L154.7,273.9 L160.9,262.1 L167.1,250.6 L173.2,261.4 L179.4,259.6 L185.5,250.6 L191.7,244.6 L197.9,239.5 L204.0,237.5 L210.2,241.8 L216.3,243.4 L222.5,247.6 L228.7,248.1 L234.8,244.4 L241.0,249.4 L247.1,240.9 L253.3,236.8 L259.5,253.1 L265.6,246.9 L271.8,248.1 L277.9,250.9 L284.1,245.9 L290.3,252.6 L296.4,262.7 L302.6,270.9 L308.7,248.9 L314.9,225.8 L321.1,218.0 L327.2,241.4 L333.4,256.9 L339.5,265.2 L345.7,286.0 L351.9,270.9 L358.0,281.5 L364.2,271.9 L370.3,272.7 L376.5,280.7 L382.7,273.9 L388.8,263.9 L395.0,246.4 L401.1,252.6 L407.3,253.1 L413.5,247.6 L419.6,225.5 L425.8,217.4 L431.9,178.4 L438.1,135.6 L444.3,136.8 L450.4,137.9 L456.6,123.0 L462.7,135.0 L468.9,131.0 L475.1,159.5 L481.2,144.4 L487.4,158.7 L493.5,157.1 L499.7,175.2 L505.9,182.2 L512.0,162.6 L518.2,158.9 L524.3,168.9 L530.5,152.6 L536.7,173.9 L542.8,155.1 L549.0,156.4 L555.1,173.2 L561.3,177.7 L567.5,198.2 L573.6,190.2 L579.8,185.7 L585.9,180.2 L592.1,175.2 L598.3,191.0 L604.4,190.2 L610.6,178.9 L616.7,188.5 L622.9,192.2 L629.1,186.1 L635.2,185.8 L641.4,192.6 L647.5,215.1 L653.7,206.4 L659.9,198.3 L666.0,206.4 L672.2,232.7 L678.3,236.4 L684.5,269.5 L690.7,253.0 L696.8,268.0 L703.0,268.3 L709.1,262.4 L715.3,271.8 L721.5,290.5 L727.6,291.0 L733.8,297.6 L739.9,311.4 L746.1,303.9 L752.3,293.8 L758.4,326.4 L764.6,331.4 L770.7,344.0 L776.9,357.7 L783.1,376.5 L789.2,374.0 L795.4,356.5 L801.5,352.2 L807.7,344.7 L813.9,342.7 L820.0,343.2 L826.2,332.7 L832.3,342.7 L838.5,338.2 L844.7,325.7 L850.8,338.2 L857.0,334.7 L863.1,327.2 L869.3,339.7 L875.5,340.2 L875.5,540 L0.7,540 Z" fill="url(#ag)" clip-path="url(#cp)"/>
<path d="M0.7,300.5 L6.9,311.0 L13.1,298.5 L19.2,322.0 L25.4,303.0 L31.5,310.0 L37.7,285.3 L43.9,286.2 L50.0,281.7 L56.2,300.4 L62.3,306.4 L68.5,301.0 L74.7,310.2 L80.8,305.2 L87.0,292.9 L93.1,292.4 L99.3,282.0 L105.5,281.0 L111.6,259.3 L117.8,257.1 L123.9,263.9 L130.1,262.6 L136.3,269.6 L142.4,274.6 L148.6,265.6 L154.7,273.9 L160.9,262.1 L167.1,250.6 L173.2,261.4 L179.4,259.6 L185.5,250.6 L191.7,244.6 L197.9,239.5 L204.0,237.5 L210.2,241.8 L216.3,243.4 L222.5,247.6 L228.7,248.1 L234.8,244.4 L241.0,249.4 L247.1,240.9 L253.3,236.8 L259.5,253.1 L265.6,246.9 L271.8,248.1 L277.9,250.9 L284.1,245.9 L290.3,252.6 L296.4,262.7 L302.6,270.9 L308.7,248.9 L314.9,225.8 L321.1,218.0 L327.2,241.4 L333.4,256.9 L339.5,265.2 L345.7,286.0 L351.9,270.9 L358.0,281.5 L364.2,271.9 L370.3,272.7 L376.5,280.7 L382.7,273.9 L388.8,263.9 L395.0,246.4 L401.1,252.6 L407.3,253.1 L413.5,247.6 L419.6,225.5 L425.8,217.4 L431.9,178.4 L438.1,135.6 L444.3,136.8 L450.4,137.9 L456.6,123.0 L462.7,135.0 L468.9,131.0 L475.1,159.5 L481.2,144.4 L487.4,158.7 L493.5,157.1 L499.7,175.2 L505.9,182.2 L512.0,162.6 L518.2,158.9 L524.3,168.9 L530.5,152.6 L536.7,173.9 L542.8,155.1 L549.0,156.4 L555.1,173.2 L561.3,177.7 L567.5,198.2 L573.6,190.2 L579.8,185.7 L585.9,180.2 L592.1,175.2 L598.3,191.0 L604.4,190.2 L610.6,178.9 L616.7,188.5 L622.9,192.2 L629.1,186.1 L635.2,185.8 L641.4,192.6 L647.5,215.1 L653.7,206.4 L659.9,198.3 L666.0,206.4 L672.2,232.7 L678.3,236.4 L684.5,269.5 L690.7,253.0 L696.8,268.0 L703.0,268.3 L709.1,262.4 L715.3,271.8 L721.5,290.5 L727.6,291.0 L733.8,297.6 L739.9,311.4 L746.1,303.9 L752.3,293.8 L758.4,326.4 L764.6,331.4 L770.7,344.0 L776.9,357.7 L783.1,376.5 L789.2,374.0 L795.4,356.5 L801.5,352.2 L807.7,344.7 L813.9,342.7 L820.0,343.2 L826.2,332.7 L832.3,342.7 L838.5,338.2 L844.7,325.7 L850.8,338.2 L857.0,334.7 L863.1,327.2 L869.3,339.7 L875.5,340.2" fill="none" stroke="#a3271b" stroke-width="2.2" stroke-linejoin="round" stroke-linecap="butt" clip-path="url(#cp)"/>
<!-- price labels -->
<text x="850.6" y="135.1" text-anchor="end" font-size="14.3" font-weight="700" fill="#1c2132" textLength="26" lengthAdjust="spacingAndGlyphs">2.92</text>
<text x="850.6" y="192.1" text-anchor="end" font-size="14.3" font-weight="700" fill="#1c2132" textLength="26" lengthAdjust="spacingAndGlyphs">2.90</text>
<text x="850.6" y="249.0" text-anchor="end" font-size="14.3" font-weight="700" fill="#1c2132" textLength="26" lengthAdjust="spacingAndGlyphs">2.88</text>
<text x="850.6" y="306.0" text-anchor="end" font-size="14.3" font-weight="700" fill="#1c2132" textLength="26" lengthAdjust="spacingAndGlyphs">2.86</text>
<text x="850.6" y="362.9" text-anchor="end" font-size="14.3" font-weight="700" fill="#1c2132" textLength="26" lengthAdjust="spacingAndGlyphs">2.84</text>

<rect x="19.2" y="401.2" width="1.2" height="1.2" fill="#444"/><text x="19.8" y="427.5" text-anchor="middle" font-size="14.2" font-weight="700" fill="#20263a" textLength="33" lengthAdjust="spacingAndGlyphs">06:00</text>
<rect x="241.0" y="401.2" width="1.2" height="1.2" fill="#444"/><text x="241.6" y="427.5" text-anchor="middle" font-size="14.2" font-weight="700" fill="#20263a" textLength="33" lengthAdjust="spacingAndGlyphs">12:00</text>
<rect x="463.5" y="401.2" width="1.2" height="1.2" fill="#444"/><text x="464.1" y="427.5" text-anchor="middle" font-size="14.2" font-weight="700" fill="#20263a" textLength="33" lengthAdjust="spacingAndGlyphs">18:00</text>
<rect x="684.8" y="401.2" width="1.2" height="1.2" fill="#444"/><text x="685.4" y="427.5" text-anchor="middle" font-size="14.2" font-weight="700" fill="#20263a" textLength="33" lengthAdjust="spacingAndGlyphs">00:00</text>

<!-- left stripe -->
<rect x="0" y="0" width="4" height="540" fill="#a01c0e"/>
<!-- header -->
<text x="19.8" y="39.9" font-size="22.5" font-weight="700" fill="#171d2e" textLength="106.5" lengthAdjust="spacingAndGlyphs">XRP-USD</text>
<text x="20" y="57.9" font-size="14.3" fill="#3a3f4a" textLength="83" lengthAdjust="spacingAndGlyphs">24 Hour Chart</text>
<text x="20.6" y="108.3" font-size="48" font-weight="700" fill="#131a2c" textLength="156.5" lengthAdjust="spacingAndGlyphs">2.8464</text>
<text x="191.3" y="109.3" font-size="14" font-weight="700" fill="#20263a" textLength="43.6" lengthAdjust="spacingAndGlyphs">-0.43%</text>
<path d="M241.8,99.4 L256.4,99.4 L249.1,111.2 Z" fill="#a51c0e"/>
<!-- powered by -->
<text x="698" y="17" font-size="12.5" font-weight="700" fill="#1c1c1c" textLength="68" lengthAdjust="spacingAndGlyphs">Powered by</text>
<g fill="#0d0d0d" stroke="#0d0d0d">
<path d="M700.3,30 H715.6 M700.3,30 V45.6 M700.3,45.6 H707.9" fill="none" stroke-width="2.5"/>
<circle cx="700.3" cy="30" r="2.5" stroke="none"/><circle cx="707.9" cy="30" r="2.5" stroke="none"/><circle cx="715.6" cy="30" r="2.5" stroke="none"/>
<circle cx="700.3" cy="37.9" r="2.5" stroke="none"/><circle cx="700.3" cy="45.6" r="2.5" stroke="none"/><circle cx="707.9" cy="45.6" r="2.5" stroke="none"/>
<circle cx="707.9" cy="37.9" r="1.45" stroke="none" fill="#2a2a2a"/><circle cx="715.6" cy="37.9" r="1.45" stroke="none" fill="#2a2a2a"/><circle cx="715.6" cy="45.6" r="1.45" stroke="none" fill="#2a2a2a"/>
</g>
<text x="721.8" y="45.3" font-size="21" font-weight="700" fill="#0d0d0d" stroke="#0d0d0d" stroke-width="0.45" textLength="129.2" lengthAdjust="spacingAndGlyphs">CoinDesk Data</text>
<text x="707.4" y="68.2" font-size="14" fill="#a6a6a6" textLength="143.6" lengthAdjust="spacingAndGlyphs">9 Oct 2025 05:12 (GMT)</text>
<text x="497.9" y="88.9" text-anchor="middle" font-size="14.4" font-weight="700" fill="#171d2e" textLength="46.0" lengthAdjust="spacingAndGlyphs">2.8587</text><text x="498.3" y="107.7" text-anchor="middle" font-size="13.2" fill="#2a2f3a" textLength="32.8" lengthAdjust="spacingAndGlyphs">Open</text>
<text x="579.6" y="88.9" text-anchor="middle" font-size="14.4" font-weight="700" fill="#171d2e" textLength="45.8" lengthAdjust="spacingAndGlyphs">2.9221</text><text x="581" y="107.7" text-anchor="middle" font-size="13.2" fill="#2a2f3a" textLength="26" lengthAdjust="spacingAndGlyphs">High</text>
<text x="661.8" y="88.9" text-anchor="middle" font-size="14.4" font-weight="700" fill="#171d2e" textLength="46.4" lengthAdjust="spacingAndGlyphs">2.8337</text><text x="663" y="107.7" text-anchor="middle" font-size="13.2" fill="#2a2f3a" textLength="22.5" lengthAdjust="spacingAndGlyphs">Low</text>
<text x="744.6" y="88.9" text-anchor="middle" font-size="14.4" font-weight="700" fill="#171d2e" textLength="55.3" lengthAdjust="spacingAndGlyphs">140.8 M</text><text x="744.3" y="107.7" text-anchor="middle" font-size="13.2" fill="#2a2f3a" textLength="18.4" lengthAdjust="spacingAndGlyphs">Vol</text>
<text x="825.5" y="88.9" text-anchor="middle" font-size="14.4" font-weight="700" fill="#171d2e" textLength="64.5" lengthAdjust="spacingAndGlyphs">405.15 M</text><text x="826.6" y="107.7" text-anchor="middle" font-size="13.2" fill="#2a2f3a" textLength="46.3" lengthAdjust="spacingAndGlyphs">Vol USD</text>

</g>
</svg>
</body></html>
